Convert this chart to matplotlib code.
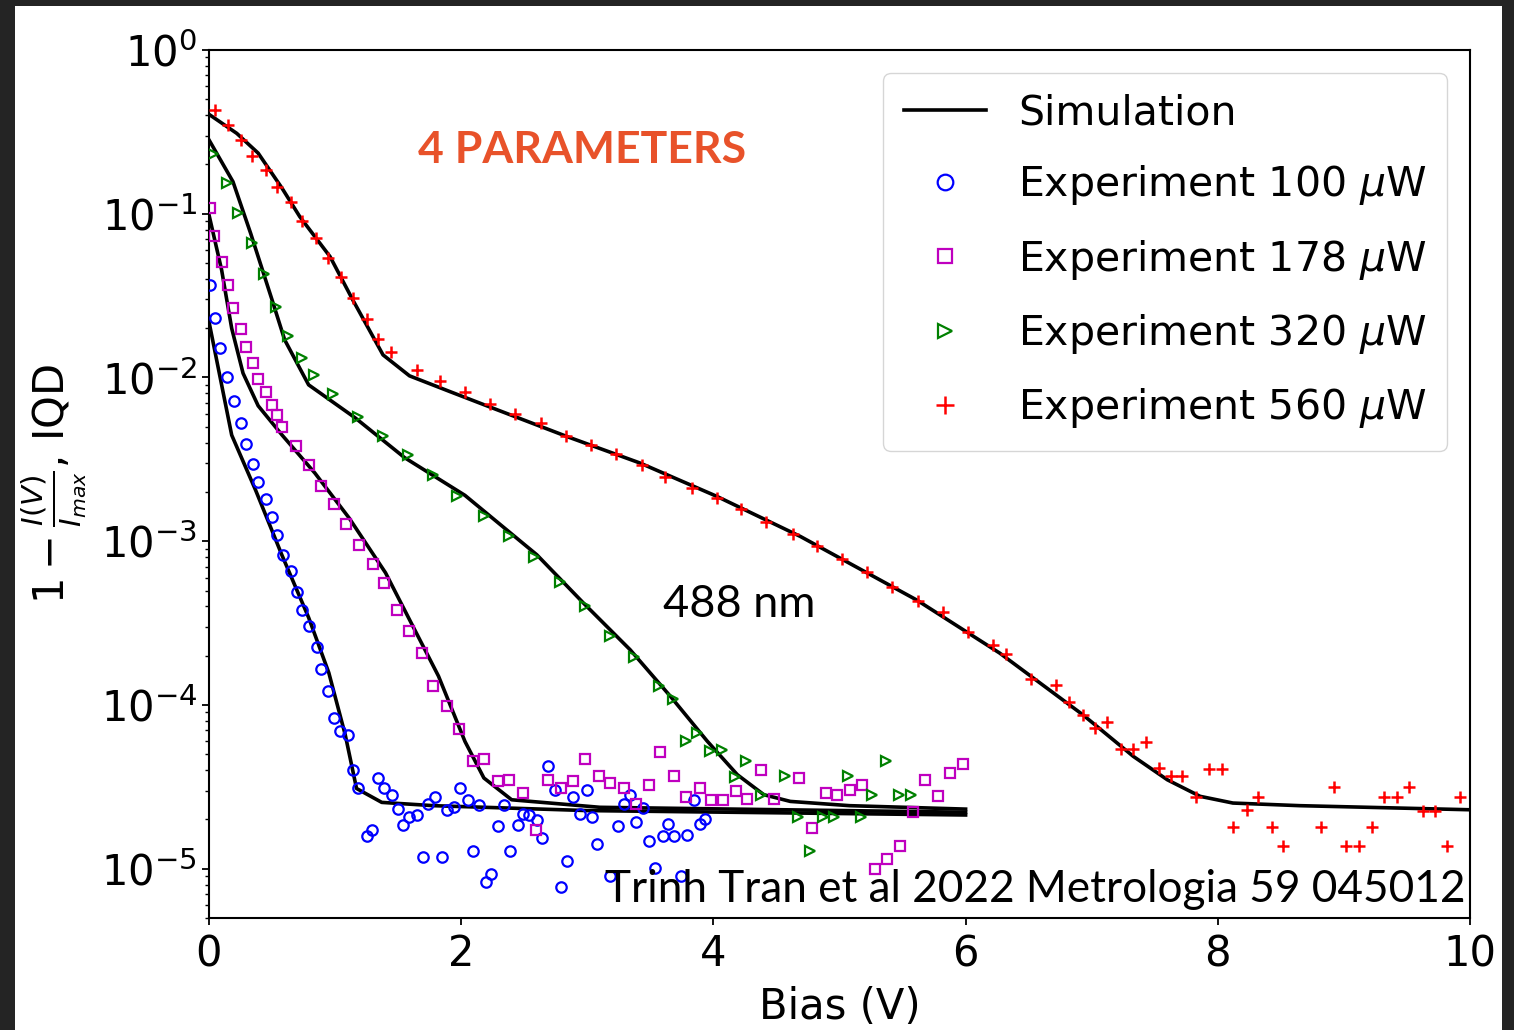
import numpy as np
import matplotlib
matplotlib.use("Agg")
import matplotlib.pyplot as plt
from matplotlib.patches import Rectangle

# ---------------- data (x in V, y given as log10 of 1 - I/Imax) ----------------
sim_100_x = [0, 0.18, 0.37, 0.58, 0.79, 0.95, 1.08, 1.17, 1.37, 1.78, 3.0, 6.0]
sim_100_log = [-1.66, -2.352, -2.689, -3.088, -3.466, -3.803, -4.181, -4.51, -4.595, -4.615, -4.645, -4.672]

sim_178_x = [0, 0.10, 0.18, 0.27, 0.39, 0.58, 0.84, 1.11, 1.40, 1.61, 1.82, 2.03, 2.18, 2.40, 3.1, 6.0]
sim_178_log = [-1.007, -1.343, -1.700, -1.974, -2.173, -2.352, -2.584, -2.857, -3.193, -3.509,
               -3.824, -4.223, -4.446, -4.579, -4.625, -4.655]

sim_320_x = [0, 0.19, 0.33, 0.50, 0.60, 0.79, 1.16, 1.55, 2.03, 2.60, 2.97, 3.34, 3.66, 3.95,
             4.19, 4.40, 4.61, 5.08, 6.0]
sim_320_log = [-0.549, -0.804, -1.119, -1.526, -1.770, -2.045, -2.247, -2.489, -2.720, -3.083,
               -3.378, -3.663, -3.948, -4.22, -4.426, -4.548, -4.589, -4.615, -4.636]

sim_560_x = [0, 0.22, 0.39, 0.58, 0.72, 0.96, 1.14, 1.38, 1.59, 1.91, 2.23, 2.84, 3.42, 4.03,
             4.69, 5.61, 6.27, 6.93, 7.33, 7.60, 7.86, 8.12, 8.65, 10.0]
sim_560_log = [-0.393, -0.509, -0.630, -0.845, -1.018, -1.262, -1.526, -1.862, -1.990, -2.086,
               -2.181, -2.361, -2.523, -2.727, -2.971, -3.358, -3.683, -4.060, -4.314, -4.457,
               -4.558, -4.599, -4.615, -4.640]

exp_100_x = [0.01, 0.05, 0.09, 0.14, 0.20, 0.25, 0.29, 0.35, 0.39, 0.45, 0.50, 0.54, 0.59, 0.65,
             0.70, 0.74, 0.79, 0.86, 0.89, 0.94, 0.99, 1.04, 1.10, 1.14, 1.18,
             1.25, 1.29, 1.34, 1.39, 1.45, 1.50, 1.54, 1.59, 1.65, 1.70, 1.74, 1.79, 1.85, 1.89,
             1.94, 1.99, 2.05, 2.09, 2.14, 2.20, 2.24, 2.29, 2.34, 2.39, 2.45, 2.49, 2.54, 2.60,
             2.64, 2.69, 2.74, 2.79, 2.84, 2.89, 2.94, 3.00, 3.04, 3.08,
             3.18, 3.24, 3.29, 3.34, 3.39, 3.44, 3.49, 3.54, 3.60, 3.64, 3.69, 3.74, 3.79, 3.85,
             3.89, 3.93]
exp_100_log = [-1.438, -1.637, -1.822, -1.995, -2.142, -2.278, -2.409, -2.531, -2.636, -2.745,
               -2.852, -2.962, -3.082, -3.183, -3.309, -3.418, -3.515, -3.645, -3.778, -3.912,
               -4.080, -4.156, -4.181, -4.396, -4.507,
               -4.803, -4.762, -4.446, -4.507, -4.548, -4.634, -4.736, -4.684, -4.675, -4.929,
               -4.603, -4.562, -4.929, -4.644, -4.623, -4.507, -4.583, -4.894, -4.613, -5.081,
               -5.031, -4.742, -4.613, -4.894, -4.736, -4.664, -4.670, -4.701, -4.813, -4.375,
               -4.518, -5.112, -4.955, -4.562, -4.664, -4.518, -4.684, -4.847,
               -5.047, -4.742, -4.603, -4.552, -4.715, -4.629, -4.833, -4.996, -4.803, -4.725,
               -4.803, -5.047, -4.792, -4.583, -4.725, -4.697]

exp_178_x = [0.01, 0.04, 0.10, 0.15, 0.19, 0.25, 0.29, 0.35, 0.39, 0.45, 0.50, 0.54, 0.58,
             0.69, 0.79, 0.89, 0.99, 1.09, 1.19, 1.30, 1.39, 1.49, 1.59, 1.69, 1.78, 1.89, 1.98,
             2.09, 2.18, 2.29, 2.38, 2.49, 2.59, 2.69, 2.79, 2.89, 2.98, 3.09, 3.18, 3.29, 3.39,
             3.49, 3.58, 3.69, 3.78, 3.89, 3.98, 4.08, 4.18, 4.27, 4.38, 4.48, 4.68, 4.78, 4.89,
             4.98, 5.08, 5.18, 5.28, 5.38, 5.48, 5.58, 5.68, 5.78, 5.88, 5.98]
exp_178_log = [-0.966, -1.134, -1.292, -1.438, -1.574, -1.705, -1.812, -1.911, -2.012, -2.089,
               -2.167, -2.228, -2.300, -2.419, -2.537, -2.661, -2.775, -2.893, -3.021, -3.140,
               -3.256, -3.418, -3.546, -3.683, -3.883, -4.009, -4.145, -4.345, -4.330, -4.467,
               -4.457, -4.535, -4.762, -4.457, -4.505, -4.465, -4.330, -4.436, -4.475, -4.507,
               -4.605, -4.487, -4.289, -4.436, -4.560, -4.507, -4.582, -4.579, -4.523, -4.576,
               -4.396, -4.574, -4.446, -4.751, -4.538, -4.548, -4.522, -4.487, -5.002, -4.941,
               -4.860, -4.656, -4.457, -4.558, -4.416, -4.359]

exp_320_x = [0.03, 0.14, 0.23, 0.34, 0.44, 0.53, 0.63, 0.74, 0.83, 0.98, 1.18, 1.38, 1.58, 1.78,
             1.97, 2.18, 2.38, 2.58, 2.78, 2.98, 3.18, 3.37, 3.57, 3.68, 3.78, 3.87, 3.97, 4.07,
             4.17, 4.26, 4.38, 4.57, 4.67, 4.77, 4.87, 4.96, 5.07, 5.17, 5.26, 5.37, 5.47, 5.57]
exp_320_log = [-0.635, -0.814, -0.993, -1.176, -1.368, -1.567, -1.746, -1.882, -1.984, -2.100,
               -2.242, -2.357, -2.473, -2.598, -2.726, -2.845, -2.971, -3.097, -3.251, -3.393,
               -3.576, -3.708, -3.885, -3.963, -4.219, -4.170, -4.281, -4.278, -4.438, -4.345,
               -4.548, -4.436, -4.684, -4.894, -4.684, -4.684, -4.436, -4.684, -4.548, -4.345,
               -4.548, -4.548]

exp_560_x = [0.05, 0.15, 0.25, 0.34, 0.45, 0.54, 0.65, 0.74, 0.85, 0.94, 1.05, 1.14, 1.25, 1.34,
             1.44, 1.65, 1.83, 2.03, 2.23, 2.43, 2.63, 2.83, 3.03, 3.23, 3.43, 3.62, 3.83, 4.03,
             4.22, 4.42, 4.63, 4.82, 5.02, 5.22, 5.42, 5.62, 5.82, 6.02, 6.22, 6.32, 6.52, 6.72,
             6.82, 6.93, 7.03, 7.12, 7.23, 7.33, 7.43, 7.53, 7.63, 7.72, 7.83, 7.93, 8.03, 8.12,
             8.23, 8.32, 8.43, 8.52, 8.82, 8.92, 9.02, 9.12, 9.22, 9.32, 9.42, 9.52, 9.63, 9.72,
             9.82, 9.92]
exp_560_log = [-0.366, -0.455, -0.547, -0.647, -0.733, -0.835, -0.931, -1.042, -1.150, -1.270,
               -1.388, -1.513, -1.644, -1.762, -1.842, -1.952, -2.023, -2.091, -2.161, -2.222,
               -2.279, -2.355, -2.411, -2.466, -2.534, -2.605, -2.676, -2.735, -2.804, -2.882,
               -2.953, -3.032, -3.107, -3.189, -3.277, -3.368, -3.435, -3.557, -3.632, -3.690,
               -3.842, -3.881, -3.982, -4.059, -4.141, -4.107, -4.269, -4.269, -4.229, -4.385,
               -4.436, -4.436, -4.562, -4.389, -4.389, -4.745, -4.644, -4.562, -4.745, -4.864,
               -4.745, -4.498, -4.864, -4.864, -4.745, -4.564, -4.564, -4.498, -4.646, -4.646,
               -4.864, -4.564]

labels = ["Simulation", "Experiment 100 $\\mu$W", "Experiment 178 $\\mu$W",
          "Experiment 320 $\\mu$W", "Experiment 560 $\\mu$W"]
x_ticks = [0, 2, 4, 6, 8, 10]

# ---------------- figure ----------------
W, H = 1514, 1030
fig = plt.figure(figsize=(W / 100, H / 100), dpi=100, facecolor="#242424")
fig.patches.append(Rectangle((15 / W, 0), (1502 - 15) / W, 1 - 6 / H,
                             transform=fig.transFigure, facecolor="white",
                             edgecolor="none", zorder=-10))

ax = fig.add_axes([209 / W, 112 / H, (1470 - 209) / W, (980 - 112) / H])
ax.set_yscale("log")

def pw(v):
    return 10.0 ** np.asarray(v)

lw = 2.6
ax.plot(sim_100_x, pw(sim_100_log), color="black", lw=lw, label=labels[0], zorder=2)
ax.plot(sim_178_x, pw(sim_178_log), color="black", lw=lw, zorder=2)
ax.plot(sim_320_x, pw(sim_320_log), color="black", lw=lw, zorder=2)
ax.plot(sim_560_x, pw(sim_560_log), color="black", lw=lw, zorder=2)

ax.plot(exp_100_x, pw(exp_100_log), ls="none", marker="o", ms=7.5, mfc="none",
        mec="#0000ff", mew=1.6, label=labels[1], zorder=3)
ax.plot(exp_178_x, pw(exp_178_log), ls="none", marker="s", ms=7, mfc="none",
        mec="#bf00bf", mew=1.6, label=labels[2], zorder=3)
ax.plot(exp_320_x, pw(exp_320_log), ls="none", marker=">", ms=7, mfc="none",
        mec="#008000", mew=1.6, label=labels[3], zorder=3)
ax.plot(exp_560_x, pw(exp_560_log), ls="none", marker="+", ms=9, mfc="none",
        mec="#ff0000", mew=1.8, label=labels[4], zorder=3)

ax.set_xlim(0, 10)
ax.set_ylim(5e-6, 1)
ax.set_xticks(x_ticks)
ax.set_xticklabels([str(t) for t in x_ticks])

ax.tick_params(axis="both", which="major", labelsize=30, length=5, width=1.3)
ax.tick_params(axis="x", which="major", pad=6)
ax.tick_params(axis="y", which="minor", length=3, width=1.0)
for s in ax.spines.values():
    s.set_linewidth(1.5)

ax.set_xlabel("Bias (V)", fontsize=30, labelpad=8)
ax.set_ylabel("$1 - \\frac{I(V)}{I_{max}}$, IQD", fontsize=30)
ax.yaxis.set_label_coords(-0.096, 0.5)

leg = ax.legend(loc="upper right", fontsize=29.5, markerscale=1.5, labelspacing=0.74,
                borderpad=0.5, borderaxespad=0.55)

fig.text(418 / W, 1 - 163 / H, "4 PARAMETERS", family="Lato", weight="bold",
         fontsize=32, color="#e8522a", ha="left", va="baseline")
fig.text(663 / W, 1 - 617 / H, "488 nm", family="Lato", fontsize=32.5,
         color="black", ha="left", va="baseline")
fig.text(605 / W, 1 - 902 / H, "Trinh Tran et al 2022 Metrologia 59 045012", family="Lato",
         fontsize=31.8, color="black", ha="left", va="baseline", zorder=10)

fig.savefig("out.png", dpi=100, facecolor=fig.get_facecolor())
